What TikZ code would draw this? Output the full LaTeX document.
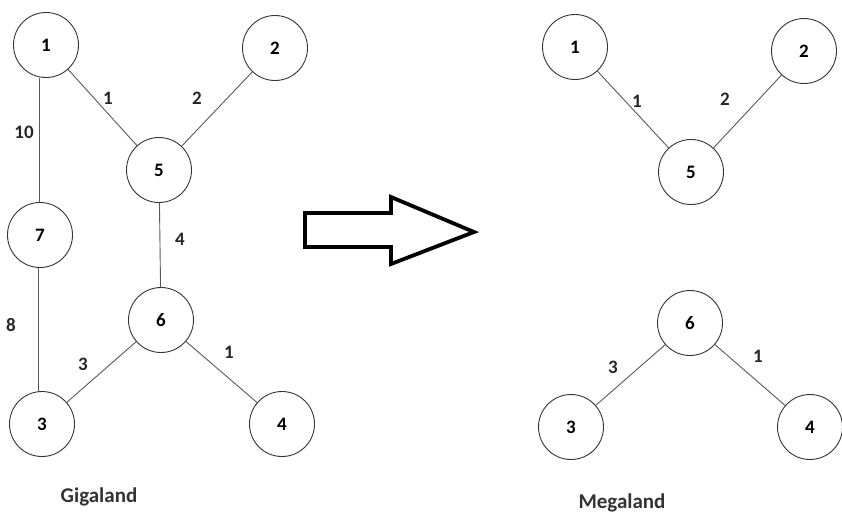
\documentclass[tikz,border=0pt]{standalone}
\usepackage{fontspec}
\setmainfont{Carlito}
\begin{document}
\begin{tikzpicture}[x=1pt,y=-1pt,
  vtx/.style={circle,draw=black!80,line width=0.9pt,minimum size=65pt,inner sep=0pt,font=\fontsize{19}{21}\selectfont\bfseries},
  edge/.style={draw=black!65,line width=0.9pt},
  wlab/.style={font=\fontsize{19}{21}\selectfont\bfseries,text=black!85},
  title/.style={font=\fontsize{21}{23}\selectfont\bfseries,text=black!80}]
\useasboundingbox (0,0) rectangle (842,515);
% Gigaland
\node[vtx] (g1) at (46,45) {1};
\node[vtx] (g2) at (275,48) {2};
\node[vtx] (g5) at (159,170) {5};
\node[vtx] (g7) at (40,235) {7};
\node[vtx] (g6) at (161,320) {6};
\node[vtx] (g3) at (42,424) {3};
\node[vtx] (g4) at (282,424) {4};
\draw[edge] (g1) -- (g5);
\draw[edge] (g2) -- (g5);
\draw[edge] (g1.south -| 39,0) -- (g7.north -| 39,0);
\draw[edge] (g5) -- (g6);
\draw[edge] (g7.south -| 38,0) -- (g3.north -| 38,0);
\draw[edge] (g6) -- (g3);
\draw[edge] (g6) -- (g4);
\node[wlab] (l15) at (108,98) {1};
\node[wlab] (l25) at (197,98) {2};
\node[wlab] (l17) at (24,132) {10};
\node[wlab] (l56) at (180,239) {4};
\node[wlab] (l73) at (11,325) {8};
\node[wlab] (l63) at (83,364) {3};
\node[wlab] (l64) at (229,352) {1};
\node[title] (gt) at (99,497) {Gigaland};
% arrow
\draw[line width=3.8pt,line join=miter] (305,213) -- (391,213) -- (391,197) -- (474,232) -- (391,264) -- (391,247) -- (305,247) -- cycle;
% Megaland
\node[vtx] (m1) at (575,47) {1};
\node[vtx] (m2) at (804,51) {2};
\node[vtx] (m5) at (691,172) {5};
\node[vtx] (m6) at (690,323) {6};
\node[vtx] (m3) at (571,427) {3};
\node[vtx] (m4) at (810,427) {4};
\draw[edge] (m1) -- (m5);
\draw[edge] (m2) -- (m5);
\draw[edge] (m6) -- (m3);
\draw[edge] (m6) -- (m4);
\node[wlab] (k15) at (637,101) {1};
\node[wlab] (k25) at (725,99) {2};
\node[wlab] (k63) at (613,367) {3};
\node[wlab] (k64) at (758,356) {1};
\node[title] (mt) at (622,503) {Megaland};
\end{tikzpicture}
\end{document}
